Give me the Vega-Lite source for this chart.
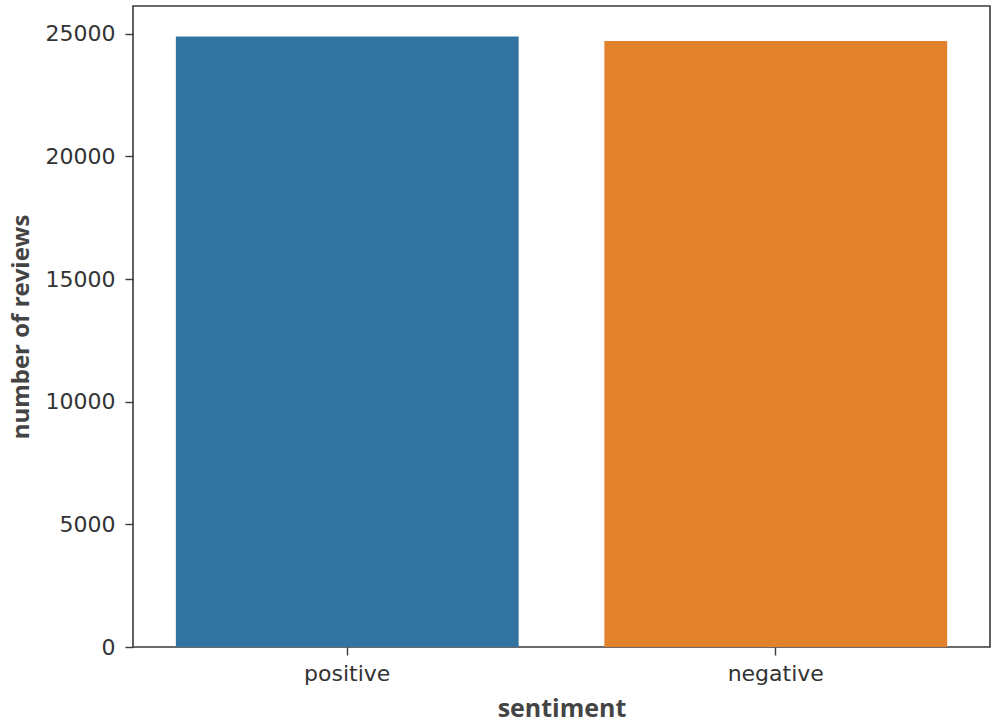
{
  "$schema": "https://vega.github.io/schema/vega-lite/v6.json",
  "width": 857,
  "height": 641,
  "autosize": {"type": "none"},
  "padding": {"left": 133, "top": 6, "right": 10, "bottom": 79},
  "background": "white",
  "config": {
    "view": {"stroke": "#3a3a3a", "strokeWidth": 1.6},
    "axis": {"grid": false, "domain": false, "tickColor": "#3a3a3a", "tickWidth": 1.4, "tickSize": 8,
             "labelFont": "DejaVu Sans", "labelFontSize": 22, "labelColor": "#333333",
             "titleFont": "Open Sans", "titleFontSize": 25, "titleFontWeight": "bold", "titleColor": "#444444"}
  },
  "data": {"values": [
    {"sentiment": "positive", "count": 24884},
    {"sentiment": "negative", "count": 24698}
  ]},
  "mark": {"type": "bar", "stroke": null},
  "encoding": {
    "x": {"field": "sentiment", "type": "nominal", "sort": ["positive", "negative"],
          "scale": {"paddingInner": 0.2, "paddingOuter": 0.1},
          "axis": {"labelAngle": 0, "labelPadding": 8, "titlePadding": 12, "title": "sentiment"}},
    "y": {"field": "count", "type": "quantitative",
          "scale": {"domain": [0, 26128], "nice": false, "zero": true},
          "axis": {"values": [0, 5000, 10000, 15000, 20000, 25000], "labelPadding": 10, "titlePadding": 12, "titleFontSize": 24, "title": "number of reviews", "format": "d"}},
    "color": {"field": "sentiment", "type": "nominal", "legend": null,
              "scale": {"domain": ["positive", "negative"], "range": ["#3274a1", "#e1812c"]}}
  }
}
